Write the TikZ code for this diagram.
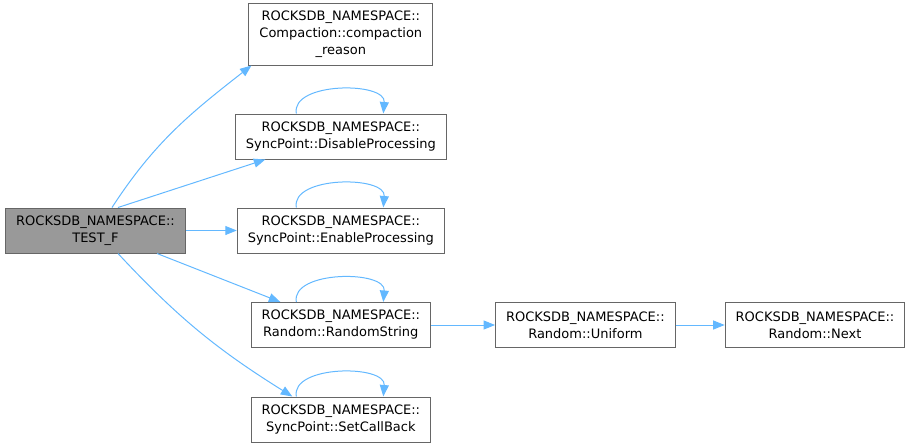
\documentclass[tikz,border=0pt]{standalone}
\usepackage{fontspec}
\setmainfont{DejaVu Sans}
\usepackage{xcolor}
\usepackage{tikz}
\usetikzlibrary{arrows.meta,positioning}
\definecolor{edgeblue}{HTML}{63B8FF}
\definecolor{nodeframe}{HTML}{666666}
\definecolor{rootfill}{HTML}{999999}
\tikzset{
  fnbox/.style={draw=nodeframe, line width=1pt, align=center, minimum height=45pt, inner xsep=10.5pt, inner ysep=3pt, font=\fontsize{13}{17}\selectfont, fill=white},
  rootbox/.style={fnbox, fill=rootfill},
  callline/.style={-{Triangle[length=11.5pt,width=9pt,fill=edgeblue]}, draw=edgeblue, line width=1pt}
}
\begin{document}
\begin{tikzpicture}[x=1pt, y=1pt, node distance=48.5pt]
    \useasboundingbox (0,0) rectangle (911,-445);
    \node[rootbox] (test) at (95.5,-230.5) {ROCKSDB\_NAMESPACE::\\TEST\_F};
    \node[fnbox, right=51pt of test] (enable) {ROCKSDB\_NAMESPACE::\\SyncPoint::EnableProcessing};
    \node[fnbox, above=48pt of enable] (disable) {ROCKSDB\_NAMESPACE::\\SyncPoint::DisableProcessing};
    \node[fnbox, minimum height=62pt, above=48pt of disable] (compaction) {ROCKSDB\_NAMESPACE::\\Compaction::compaction\\\_reason};
    \node[fnbox, below=of enable] (random) {ROCKSDB\_NAMESPACE::\\Random::RandomString};
    \node[fnbox, below=of random] (setcb) {ROCKSDB\_NAMESPACE::\\SyncPoint::SetCallBack};
    \node[fnbox, right=64pt of random] (uniform) {ROCKSDB\_NAMESPACE::\\Random::Uniform};
    \node[fnbox, right=49pt of uniform] (next) {ROCKSDB\_NAMESPACE::\\Random::Next};
    \draw[callline] ([xshift=16.5pt]test.north) to[out=57,in=218] ([xshift=3pt]compaction.south west);
    \draw[callline] ([xshift=22.5pt]test.north) -- ([xshift=-75.5pt]disable.south);
    \draw[callline] (test.east) -- (enable.west);
    \draw[callline] ([xshift=61.5pt]test.south) -- ([xshift=-60.5pt]random.north);
    \draw[callline] ([xshift=22.5pt]test.south) to[out=-47,in=148] ([xshift=-48.5pt]setcb.north);
    \foreach \n in {disable,enable,random,setcb}
      \draw[callline] ([xshift=-44.5pt]\n.north) to[out=100,in=85,looseness=0.95] ([xshift=42.5pt]\n.north);
    \draw[callline] (random.east) -- (uniform.west);
    \draw[callline] (uniform.east) -- (next.west);
  \end{tikzpicture}
\end{document}
